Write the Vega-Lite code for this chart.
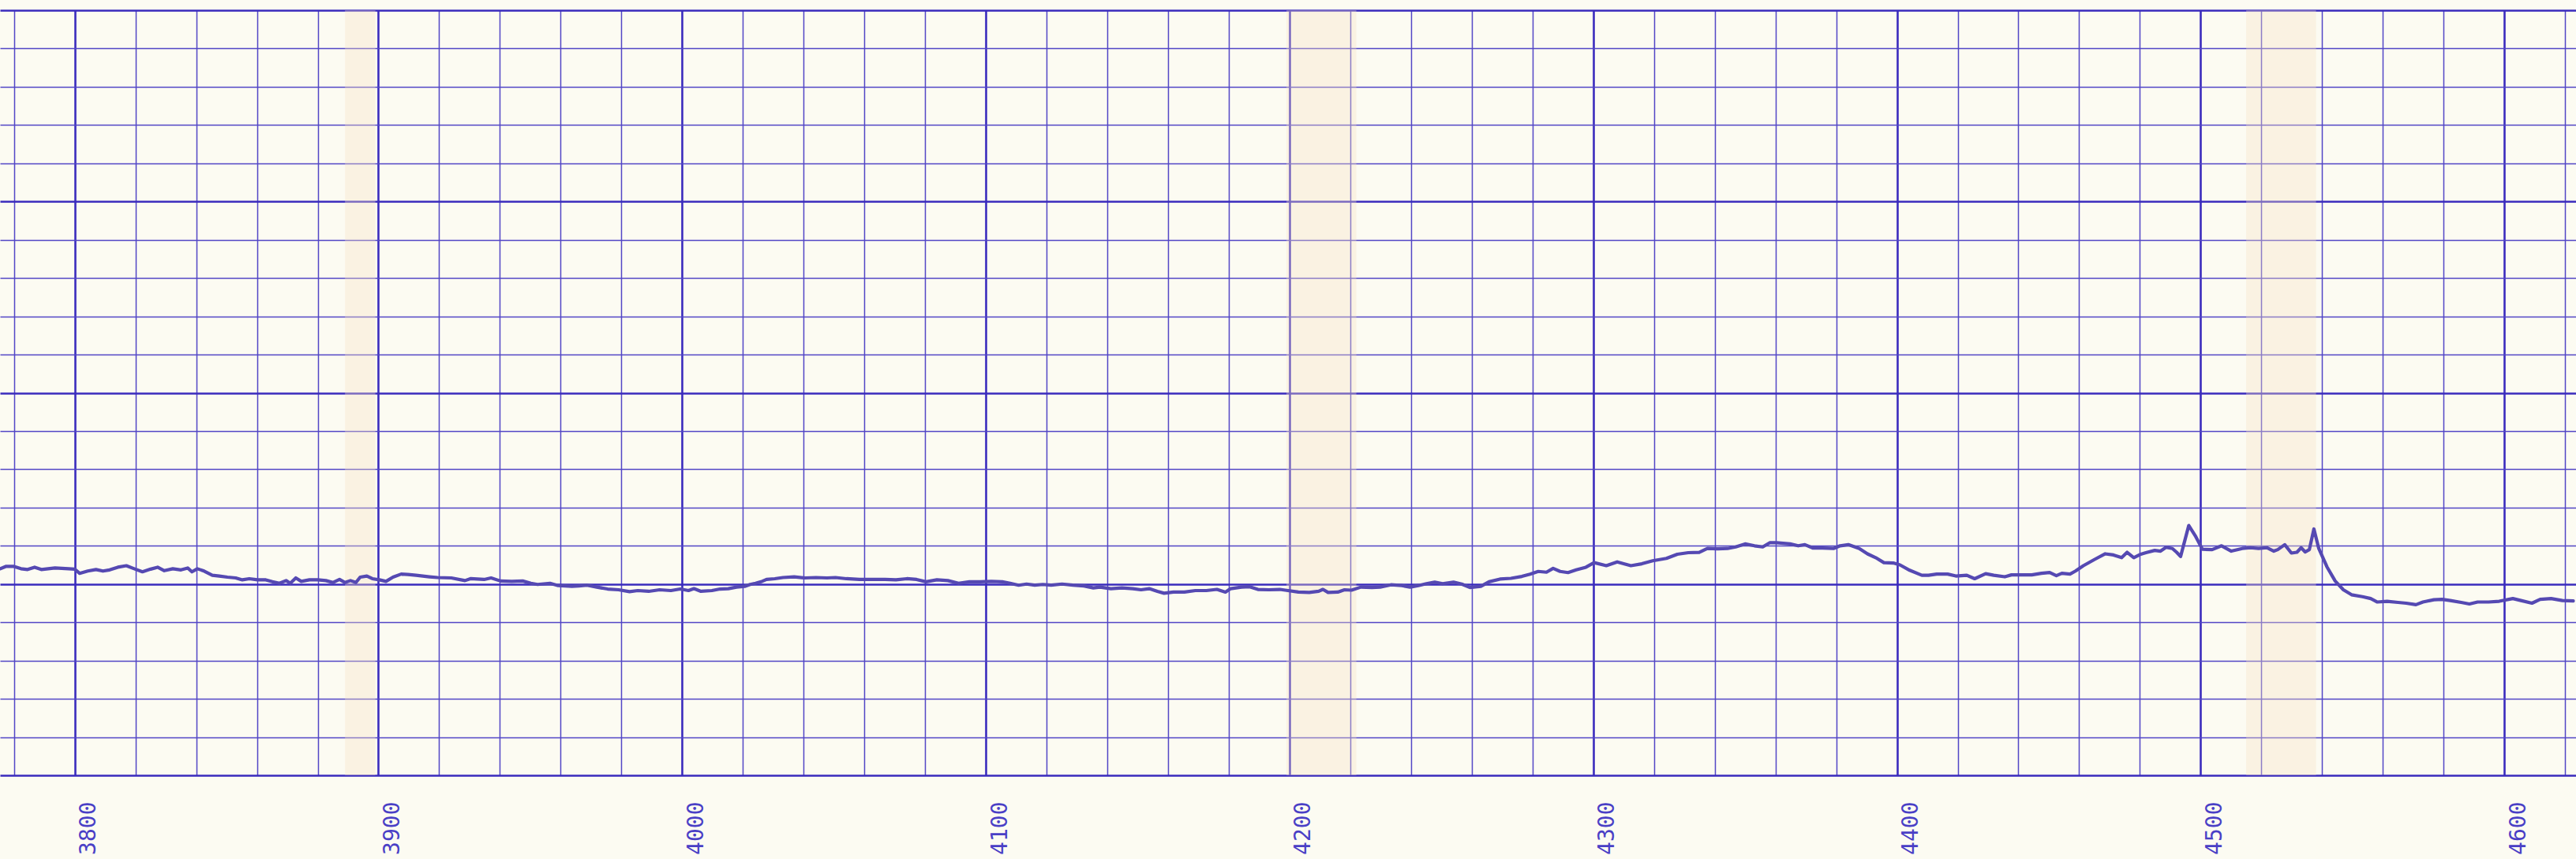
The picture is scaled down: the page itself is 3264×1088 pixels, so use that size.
{
  "$schema": "https://vega.github.io/schema/vega-lite/v6.json",
  "autosize": {"type": "none"},
  "width": 3264,
  "height": 969,
  "padding": {"left": 0, "top": 13, "right": 0, "bottom": 106},
  "background": "#fcfbf2",
  "config": {"view": {"stroke": null}},
  "datasets": {
    "bands": [
      {"start": 3889, "end": 3899},
      {"start": 4199, "end": 4222},
      {"start": 4515, "end": 4538}
    ],
    "trace": [
      {"x":3775.5,"y":27.0},{"x":3777.3,"y":27.3},{"x":3780,"y":27.3},{"x":3782.3,"y":27.0},{"x":3784.5,"y":26.9},{"x":3786.8,"y":27.2},{"x":3789,"y":26.9},{"x":3793.5,"y":27.1},{"x":3798,"y":27.0},{"x":3800,"y":26.95},{"x":3801.6,"y":26.4},{"x":3804.3,"y":26.7},{"x":3807,"y":26.9},{"x":3809.3,"y":26.7},{"x":3811.5,"y":26.85},{"x":3814.2,"y":27.2},{"x":3817,"y":27.4},{"x":3819.6,"y":27.0},{"x":3822.3,"y":26.6},{"x":3825,"y":26.95},{"x":3827.3,"y":27.2},{"x":3829.5,"y":26.75},{"x":3832.3,"y":27.0},{"x":3835,"y":26.85},{"x":3837.2,"y":27.1},{"x":3838.6,"y":26.6},{"x":3840.4,"y":27.0},{"x":3842.6,"y":26.7},{"x":3845.3,"y":26.15},{"x":3847.6,"y":26.05},{"x":3850.3,"y":25.9},{"x":3853,"y":25.8},{"x":3855.2,"y":25.55},{"x":3857.5,"y":25.7},{"x":3860.2,"y":25.55},{"x":3862.9,"y":25.55},{"x":3865.1,"y":25.3},{"x":3867.4,"y":25.1},{"x":3869.6,"y":25.45},{"x":3871,"y":25.1},{"x":3872.8,"y":25.8},{"x":3874.6,"y":25.35},{"x":3877.3,"y":25.55},{"x":3880,"y":25.55},{"x":3882.7,"y":25.45},{"x":3885,"y":25.2},{"x":3887.2,"y":25.6},{"x":3889,"y":25.2},{"x":3890.8,"y":25.45},{"x":3892.6,"y":25.2},{"x":3894,"y":25.9},{"x":3896.2,"y":26.05},{"x":3898,"y":25.7},{"x":3900.3,"y":25.55},{"x":3902.5,"y":25.35},{"x":3904.8,"y":25.9},{"x":3907.5,"y":26.3},{"x":3909.7,"y":26.25},{"x":3912.4,"y":26.15},{"x":3916.8,"y":25.95},
      {"x":3919.5,"y":25.85},{"x":3924,"y":25.8},{"x":3928.5,"y":25.45},{"x":3930.3,"y":25.7},{"x":3934.8,"y":25.6},{"x":3937.1,"y":25.8},{"x":3940.2,"y":25.4},{"x":3943.9,"y":25.35},{"x":3947.5,"y":25.4},{"x":3950.2,"y":25.1},{"x":3952.4,"y":24.95},{"x":3956.5,"y":25.1},{"x":3959.2,"y":24.8},{"x":3963.7,"y":24.7},{"x":3966,"y":24.75},{"x":3968.7,"y":24.85},{"x":3971.9,"y":24.6},{"x":3975.5,"y":24.35},{"x":3979.1,"y":24.25},{"x":3982.7,"y":24.0},{"x":3985.4,"y":24.15},{"x":3989,"y":24.05},{"x":3992.6,"y":24.25},{"x":3996.3,"y":24.15},{"x":3999.4,"y":24.35},{"x":4002.1,"y":24.15},{"x":4003.9,"y":24.4},{"x":4006.2,"y":24.05},{"x":4009.8,"y":24.15},{"x":4012.5,"y":24.35},{"x":4015.2,"y":24.4},{"x":4017.9,"y":24.6},{"x":4020.6,"y":24.7},{"x":4022.4,"y":24.95},{"x":4024.2,"y":25.1},{"x":4026,"y":25.3},{"x":4027.8,"y":25.6},{"x":4030.5,"y":25.7},{"x":4033.2,"y":25.85},{"x":4036.9,"y":25.95},{"x":4040.5,"y":25.8},{"x":4044.1,"y":25.85},{"x":4047.7,"y":25.8},{"x":4050.5,"y":25.85},{"x":4054.1,"y":25.7},{"x":4058.4,"y":25.6},
      {"x":4063.3,"y":25.6},{"x":4066.8,"y":25.6},{"x":4070.4,"y":25.55},{"x":4074,"y":25.7},{"x":4077.2,"y":25.6},{"x":4080.3,"y":25.3},{"x":4083.9,"y":25.55},{"x":4087.5,"y":25.45},{"x":4091,"y":25.1},{"x":4094.6,"y":25.3},{"x":4098.2,"y":25.3},{"x":4101.8,"y":25.35},{"x":4105.4,"y":25.3},{"x":4108,"y":25.1},{"x":4110.8,"y":24.85},{"x":4113.4,"y":25.0},{"x":4116.1,"y":24.85},{"x":4118.8,"y":24.95},{"x":4121.5,"y":24.85},{"x":4125.1,"y":25.0},{"x":4128.7,"y":24.85},{"x":4132.3,"y":24.75},{"x":4135.4,"y":24.5},{"x":4137.6,"y":24.6},{"x":4141.2,"y":24.4},{"x":4144.8,"y":24.5},{"x":4148.4,"y":24.4},{"x":4151.1,"y":24.25},{"x":4153.8,"y":24.4},{"x":4156.5,"y":24.05},{"x":4158.7,"y":23.8},{"x":4161.8,"y":23.95},{"x":4165.4,"y":23.95},{"x":4169,"y":24.15},{"x":4172.6,"y":24.15},{"x":4176.1,"y":24.3},{"x":4178.9,"y":23.95},{"x":4180.6,"y":24.4},{"x":4184.2,"y":24.6},{"x":4186.9,"y":24.65},{"x":4189.6,"y":24.3},{"x":4193.2,"y":24.25},{"x":4196.8,"y":24.3},{"x":4199.5,"y":24.15},
      {"x":4202.9,"y":23.95},{"x":4206.5,"y":23.9},{"x":4209.6,"y":24.05},{"x":4211,"y":24.3},{"x":4212.7,"y":23.9},{"x":4215.9,"y":23.95},{"x":4218.1,"y":24.25},{"x":4220.4,"y":24.2},{"x":4223.5,"y":24.6},{"x":4227.1,"y":24.55},{"x":4229.8,"y":24.6},{"x":4233.4,"y":24.9},{"x":4237,"y":24.8},{"x":4239.7,"y":24.6},{"x":4242.4,"y":24.8},{"x":4245.1,"y":25.05},{"x":4247.8,"y":25.25},{"x":4250.4,"y":25.05},{"x":4254,"y":25.25},{"x":4256.7,"y":25.0},{"x":4259.4,"y":24.55},{"x":4263,"y":24.7},{"x":4265.7,"y":25.3},{"x":4269.3,"y":25.65},{"x":4272.9,"y":25.75},{"x":4276.5,"y":26.0},{"x":4279.2,"y":26.3},{"x":4281.9,"y":26.65},{"x":4284.6,"y":26.55},{"x":4286.8,"y":27.05},{"x":4289.1,"y":26.65},{"x":4291.7,"y":26.5},{"x":4294.4,"y":26.85},{"x":4297.6,"y":27.2},{"x":4300.3,"y":27.8},{"x":4304.3,"y":27.4},{"x":4307.9,"y":27.9},{"x":4312.4,"y":27.4},{"x":4316,"y":27.65},{"x":4319.6,"y":28.05},{"x":4324.1,"y":28.35},{"x":4327.7,"y":28.9},{"x":4331.3,"y":29.1},{"x":4334.9,"y":29.15},{"x":4337.6,"y":29.65},{"x":4341,"y":29.6},
      {"x":4344.2,"y":29.65},{"x":4346.9,"y":29.85},{"x":4350,"y":30.25},{"x":4353.1,"y":30.0},{"x":4355.8,"y":29.85},{"x":4358.1,"y":30.4},{"x":4360.3,"y":30.4},{"x":4364.8,"y":30.25},{"x":4367.5,"y":30.0},{"x":4369.7,"y":30.15},{"x":4372.4,"y":29.7},{"x":4375.5,"y":29.7},{"x":4379.1,"y":29.65},{"x":4381.3,"y":30.0},{"x":4384,"y":30.15},{"x":4387.6,"y":29.65},{"x":4390.3,"y":28.95},{"x":4393,"y":28.45},{"x":4395.7,"y":27.8},{"x":4398.8,"y":27.75},{"x":4401,"y":27.5},{"x":4404.2,"y":26.8},{"x":4408.2,"y":26.15},{"x":4410.4,"y":26.15},{"x":4413.1,"y":26.3},{"x":4416.7,"y":26.3},{"x":4419.4,"y":26.05},{"x":4423,"y":26.15},{"x":4425.6,"y":25.7},{"x":4429.2,"y":26.35},{"x":4431.9,"y":26.15},{"x":4435.5,"y":25.95},{"x":4437.7,"y":26.2},{"x":4440.9,"y":26.2},{"x":4444.4,"y":26.2},{"x":4447.6,"y":26.4},{"x":4450.3,"y":26.5},{"x":4452.5,"y":26.1},{"x":4454.3,"y":26.4},{"x":4457,"y":26.3},{"x":4458.8,"y":26.7},{"x":4461.4,"y":27.4},{"x":4465,"y":28.2},{"x":4468.6,"y":28.95},{"x":4471.3,"y":28.8},{"x":4474,"y":28.45},{"x":4475.8,"y":29.15},{"x":4478,"y":28.45},{"x":4480.3,"y":28.9},{"x":4482,"y":29.1},
      {"x":4484.9,"y":29.4},{"x":4486.8,"y":29.3},{"x":4488.6,"y":29.8},{"x":4490.7,"y":29.65},{"x":4492.1,"y":29.15},{"x":4493.4,"y":28.6},{"x":4496.1,"y":32.65},{"x":4498.4,"y":31.2},{"x":4500.6,"y":29.55},{"x":4503.8,"y":29.5},{"x":4506.9,"y":30.0},{"x":4510.1,"y":29.3},{"x":4513.7,"y":29.65},{"x":4516.4,"y":29.75},{"x":4519.1,"y":29.65},{"x":4521.8,"y":29.75},{"x":4524.1,"y":29.3},{"x":4525.4,"y":29.5},{"x":4527.7,"y":30.15},{"x":4529.9,"y":29.05},{"x":4531.7,"y":29.15},{"x":4533.1,"y":29.75},{"x":4534.4,"y":29.2},{"x":4535.8,"y":29.5},{"x":4537.3,"y":32.2},{"x":4538.9,"y":29.65},{"x":4541.6,"y":27.25},{"x":4544.3,"y":25.4},{"x":4547,"y":24.25},{"x":4549.7,"y":23.6},{"x":4553.3,"y":23.35},{"x":4556,"y":23.1},{"x":4558.2,"y":22.65},{"x":4561.4,"y":22.75},{"x":4565,"y":22.6},{"x":4567.7,"y":22.5},{"x":4570.9,"y":22.3},{"x":4573.2,"y":22.65},{"x":4576.8,"y":22.95},{"x":4579.5,"y":23.0},{"x":4582.2,"y":22.85},{"x":4585.8,"y":22.6},{"x":4588.5,"y":22.4},{"x":4591.2,"y":22.65},{"x":4594.8,"y":22.65},{"x":4598.3,"y":22.75},{"x":4602.8,"y":23.1},{"x":4605.5,"y":22.85},{"x":4609.1,"y":22.5},{"x":4611.8,"y":23.0},{"x":4615.4,"y":23.1},{"x":4619.1,"y":22.85},{"x":4622.7,"y":22.8}
    ]
  },
  "layer": [
    {
      "data": {"name": "bands"},
      "mark": {"type": "rect", "fill": "#f5e2c6", "opacity": 0.35},
      "encoding": {
        "x": {"field": "start", "type": "quantitative", "scale": {"domain": [3775.4, 4623.6], "nice": false, "zero": false}},
        "x2": {"field": "end"}
      }
    },
    {
      "data": {"name": "trace"},
      "mark": {"type": "line", "color": "#5549b2", "strokeWidth": 4.2, "strokeJoin": "round", "strokeCap": "round"},
      "encoding": {
        "x": {
          "field": "x", "type": "quantitative",
          "scale": {"domain": [3775.4, 4623.6], "nice": false, "zero": false},
          "axis": {
            "title": null,
            "values": [3780,3790,3800,3810,3820,3830,3840,3850,3860,3870,3880,3890,3900,3910,3920,3930,3940,3950,3960,3970,3980,3990,4000,4010,4020,4030,4040,4050,4060,4070,4080,4090,4100,4110,4120,4130,4140,4150,4160,4170,4180,4190,4200,4210,4220,4230,4240,4250,4260,4270,4280,4290,4300,4310,4320,4330,4340,4350,4360,4370,4380,4390,4400,4410,4420,4430,4440,4450,4460,4470,4480,4490,4500,4510,4520,4530,4540,4550,4560,4570,4580,4590,4600,4610,4620],
            "format": "d",
            "grid": true,
            "gridColor": {"condition": {"test": "datum.value % 50 === 0", "value": "#3a2bbd"}, "value": "#5246c6"},
            "gridWidth": {"condition": {"test": "datum.value % 50 === 0", "value": 2.6}, "value": 1.5},
            "ticks": false,
            "domain": false,
            "labelExpr": "datum.value % 100 === 0 ? datum.label : ''",
            "labelAngle": 270,
            "labelAlign": "right",
            "labelBaseline": "middle",
            "labelOffset": 18,
            "labelPadding": 33,
            "labelFont": "DejaVu Sans Mono",
            "labelFontSize": 28,
            "labelColor": "#4a3fc6",
            "labelOverlap": false,
            "labelFlush": false,
            "labelBound": false
          }
        },
        "y": {
          "field": "y", "type": "quantitative",
          "scale": {"domain": [0, 100], "nice": false, "zero": false},
          "axis": {
            "title": null,
            "values": [0,5,10,15,20,25,30,35,40,45,50,55,60,65,70,75,80,85,90,95,100],
            "grid": true,
            "gridColor": {"condition": {"test": "datum.value % 25 === 0", "value": "#3a2bbd"}, "value": "#5246c6"},
            "gridWidth": {"condition": {"test": "datum.value % 25 === 0", "value": 2.6}, "value": 1.5},
            "labels": false,
            "ticks": false,
            "domain": false
          }
        }
      }
    }
  ]
}
